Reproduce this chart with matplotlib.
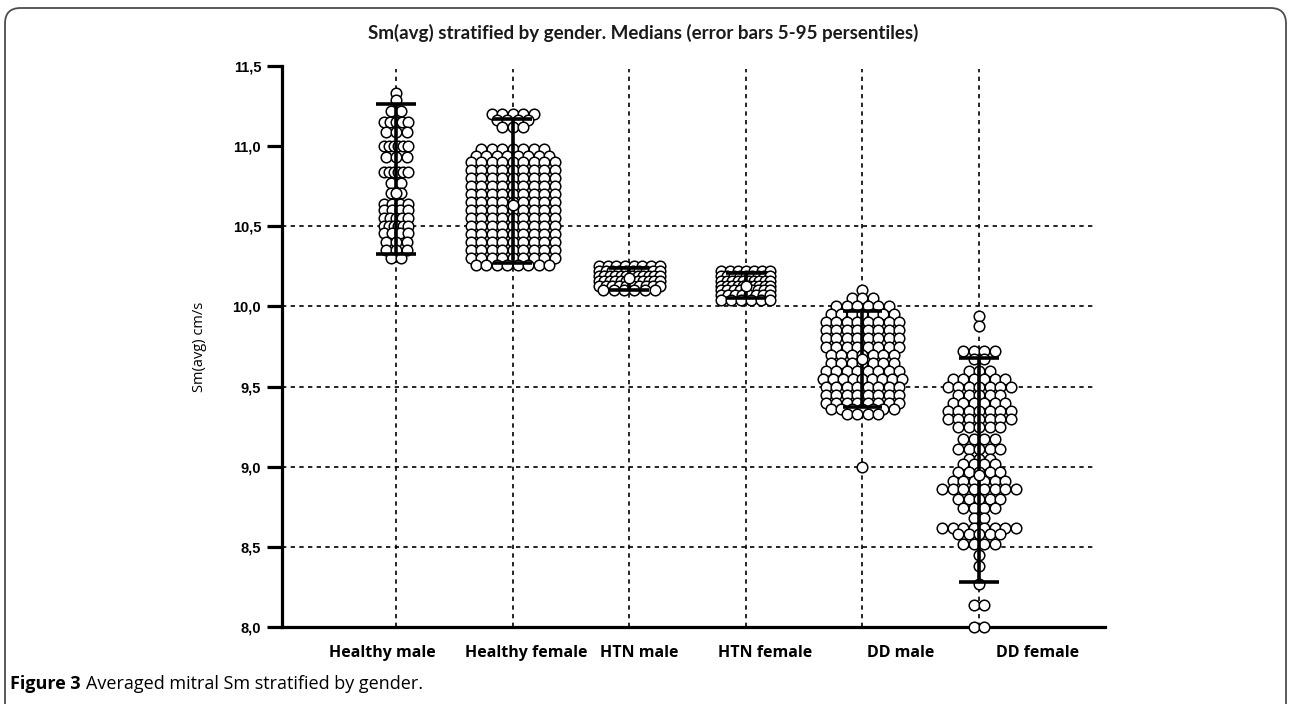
"""
    Sm(avg) stratified by gender: scatter dot plot with medians and 5-95 percentiles
"""

import numpy as np
import matplotlib
import matplotlib.pyplot as plt
from matplotlib.patches import FancyBboxPatch
from matplotlib.ticker import FuncFormatter

matplotlib.use('agg')

# category names
groups = ['Healthy male', 'Healthy female', 'HTN male', 'HTN female', 'DD male', 'DD female']

# individual values as (level, number of dots at that level)
healthyMaleVals = [11.33, 11.29, 11.22, 11.15, 11.09, 11.00, 10.93, 10.84, 10.77,
                   10.71, 10.64, 10.60, 10.55, 10.50, 10.46, 10.40, 10.35, 10.30]
healthyMaleN = [1, 1, 2, 5, 3, 6, 3, 6, 2, 2, 4, 4, 5, 6, 4, 3, 3, 2]

healthyFemaleVals = [11.20, 11.16, 11.12, 10.98, 10.94, 10.90, 10.85, 10.80, 10.75, 10.70,
                     10.65, 10.60, 10.55, 10.50, 10.45, 10.40, 10.35, 10.30, 10.26]
healthyFemaleN = [5, 4, 3, 7, 8, 9, 9, 9, 9, 9, 9, 9, 9, 9, 9, 9, 9, 9, 8]

htnMaleVals = [10.25, 10.22, 10.19, 10.16, 10.13, 10.10]
htnMaleN = [8, 10, 12, 12, 10, 6]

htnFemaleVals = [10.22, 10.19, 10.16, 10.13, 10.10, 10.07, 10.04]
htnFemaleN = [7, 9, 10, 10, 9, 8, 6]

ddMaleVals = [10.10, 10.05, 10.00, 9.95, 9.90, 9.85, 9.80, 9.75, 9.70, 9.65,
              9.60, 9.55, 9.50, 9.45, 9.40, 9.36, 9.33, 9.00]
ddMaleN = [1, 3, 6, 7, 8, 8, 8, 8, 7, 7, 8, 9, 8, 8, 8, 7, 4, 1]

ddFemaleVals = [9.94, 9.88, 9.72, 9.67, 9.60, 9.55, 9.50, 9.45, 9.40, 9.35,
                9.30, 9.25, 9.17, 9.11, 9.05, 9.02, 8.97, 8.91, 8.86, 8.80,
                8.74, 8.68, 8.62, 8.58, 8.52, 8.45, 8.38, 8.27, 8.14, 8.00]
ddFemaleN = [1, 1, 4, 2, 3, 6, 7, 5, 6, 7, 7, 5, 4, 5, 3, 4, 5, 6, 8, 5,
             4, 2, 8, 5, 4, 1, 1, 1, 2, 2]

# summary statistics
medians = [10.71, 10.63, 10.18, 10.13, 9.67, 8.95]
p5 = [10.33, 10.27, 10.10, 10.05, 9.37, 8.28]
p95 = [11.26, 11.17, 10.24, 10.21, 9.97, 9.68]

yTicks = [8.0, 8.5, 9.0, 9.5, 10.0, 10.5, 11.0, 11.5]
gridY = [8.5, 9.0, 9.5, 10.0, 10.5]

levels = [healthyMaleVals, healthyFemaleVals, htnMaleVals, htnFemaleVals, ddMaleVals, ddFemaleVals]
counts = [healthyMaleN, healthyFemaleN, htnMaleN, htnFemaleN, ddMaleN, ddFemaleN]

# layout (not data)
halfWidth = [0.1, 0.36, 0.26, 0.21, 0.34, 0.41]
labelPos = [-0.12, 1.12, 2.09, 3.165, 4.33, 5.505]
dotStep = 0.09
capHalf = 0.17

fig = plt.figure(figsize=(12.9, 7.04), dpi=100)
ax = fig.add_axes([282/1290, 77/704, 823/1290, 561/704])
ax.set_xlim(-0.978, 6.08)
ax.set_ylim(8.0, 11.5)

# frame round the figure
frame = FancyBboxPatch((5/1290, -0.05), 1281/1290, (704-8)/704 + 0.05,
                       boxstyle='round,pad=0,rounding_size=0.012',
                       transform=fig.transFigure, facecolor='none',
                       edgecolor='#4d4d4d', linewidth=1.3, mutation_aspect=1290/704)
fig.patches.append(frame)

# dashed grid
dash = (0, (2.6, 2.6))
ax.hlines(gridY, -0.978, 6.0, colors='black', linewidth=1.2, linestyles=[dash], zorder=1)
ax.vlines(np.arange(len(groups)), 8.0, 11.48, colors='black', linewidth=1.2,
          linestyles=[dash], zorder=1)

# dots, each level spread sideways
for i, (vals, ns) in enumerate(zip(levels, counts)):
    for v, n in zip(vals, ns):
        if n == 1:
            offs = np.zeros(1)
        else:
            step = min(dotStep, 2*halfWidth[i]/(n-1))
            offs = (np.arange(n) - (n-1)/2) * step
        ax.scatter(i + offs, np.full(n, v), s=58, facecolor='white', edgecolor='black',
                   linewidth=1.1, zorder=3, clip_on=False)

# error bars 5-95 percentiles and medians
x = np.arange(len(groups))
ax.vlines(x, p5, p95, colors='black', linewidth=2.6, zorder=4)
ax.hlines(p5, x - capHalf, x + capHalf, colors='black', linewidth=2.6, zorder=4)
ax.hlines(p95, x - capHalf, x + capHalf, colors='black', linewidth=2.6, zorder=4)
ax.scatter(x, medians, s=58, facecolor='white', edgecolor='black', linewidth=1.1, zorder=5)

# axes styling
for side in ['top', 'right']:
    ax.spines[side].set_visible(False)
ax.spines['left'].set_linewidth(2.3)
ax.spines['bottom'].set_linewidth(2.3)
ax.set_yticks(yTicks)
ax.yaxis.set_major_formatter(FuncFormatter(lambda v, p: ('%.1f' % v).replace('.', ',')))
ax.tick_params(axis='y', length=11, width=2.3, pad=4, labelsize=10.5)
for lab in ax.get_yticklabels():
    lab.set_fontfamily('Liberation Sans')
    lab.set_fontweight('bold')
ax.set_xticks(labelPos)
ax.set_xticklabels(groups, fontfamily='Open Sans', fontweight='bold', fontsize=11.5)
ax.tick_params(axis='x', length=0, pad=13)

ax.set_ylabel('Sm(avg) cm/s', fontfamily='Open Sans', fontsize=10.5)
ax.yaxis.set_label_coords(-0.091, 0.5)

fig.text(643/1290, 1 - 33/704, 'Sm(avg) stratified by gender. Medians (error bars 5-95 persentiles)',
         ha='center', va='center', fontsize=13.5,
         fontfamily='Lato', fontweight='bold', color='#1a1a1a')

# caption
capY = 1 - 684/704
t1 = fig.text(10/1290, capY, 'Figure 3', ha='left', va='center', fontsize=13,
              fontfamily='Open Sans', fontweight='bold')
fig.canvas.draw()
bb = t1.get_window_extent()
fig.text((bb.x1 + 5)/1290, capY, 'Averaged mitral Sm stratified by gender.', ha='left',
         va='center', fontsize=13, fontfamily='Open Sans')

fig.savefig('out.png', dpi=100)
